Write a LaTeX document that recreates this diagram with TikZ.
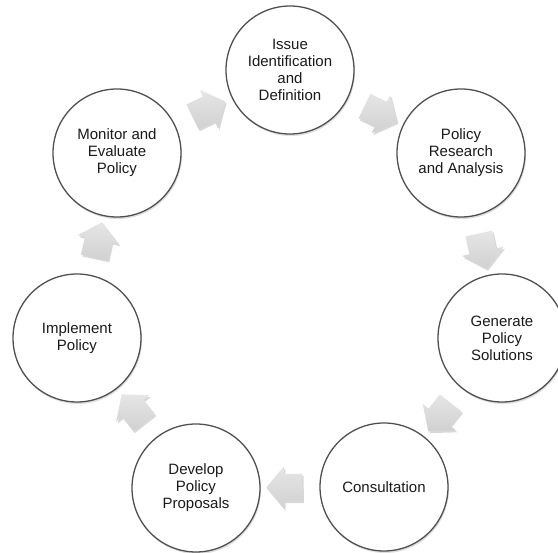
\documentclass[tikz,border=0pt]{standalone}
\usepackage{fontspec}
\setmainfont{Liberation Sans}
\usetikzlibrary{shapes.arrows,shadows,calc}
\definecolor{ringcol}{HTML}{505050}
\definecolor{txtcol}{HTML}{1A1A1A}
\tikzset{
  stage/.style={circle, draw=ringcol, line width=1.3pt, fill=white,
    minimum size=128pt, inner sep=0pt, align=center, text=txtcol,
    font=\fontsize{15}{17}\selectfont,
    drop shadow={opacity=0.25, shadow xshift=1pt, shadow yshift=-2pt}},
  blockarr/.style={single arrow, draw=none, top color=gray!20, bottom color=gray!36,
    minimum height=36pt, inner xsep=0pt, inner ysep=13.5pt,
    single arrow head extend=7.5pt, single arrow tip angle=100,
    drop shadow={opacity=0.3, shadow xshift=1.5pt, shadow yshift=-2pt}}
}
\newcommand\flowarrow[3]{%
  \path let \p1=(#1), \p2=(#2), \n1={atan2(\y2-\y1,\x2-\x1)} in
    node[blockarr, rotate=\n1] (#3) at ($(#1)!0.5!(#2)$) {};}
\begin{document}
\begin{tikzpicture}[x=1pt,y=-1pt]
\useasboundingbox (0,0) rectangle (558,553);
\clip (0,0) rectangle (558,553);
\fill[white] (0,0) rectangle (558,553);
\node[stage] (iss) at (290,70) {Issue\\Identification\\and\\Definition};
\node[stage] (res) at (461,153) {Policy\\Research\\and Analysis};
\node[stage] (gen) at (502,338) {Generate\\Policy\\Solutions};
\node[stage] (con) at (384,487) {Consultation};
\node[stage] (dev) at (196,488) {Develop\\Policy\\Proposals};
\node[stage] (imp) at (77,338) {Implement\\Policy};
\node[stage] (mon) at (117,153) {Monitor and\\Evaluate\\Policy};
\flowarrow{mon}{iss}{a1}
\flowarrow{iss}{res}{a2}
\flowarrow{res}{gen}{a3}
\flowarrow{gen}{con}{a4}
\flowarrow{con}{dev}{a5}
\flowarrow{dev}{imp}{a6}
\flowarrow{imp}{mon}{a7}
\end{tikzpicture}
\end{document}
